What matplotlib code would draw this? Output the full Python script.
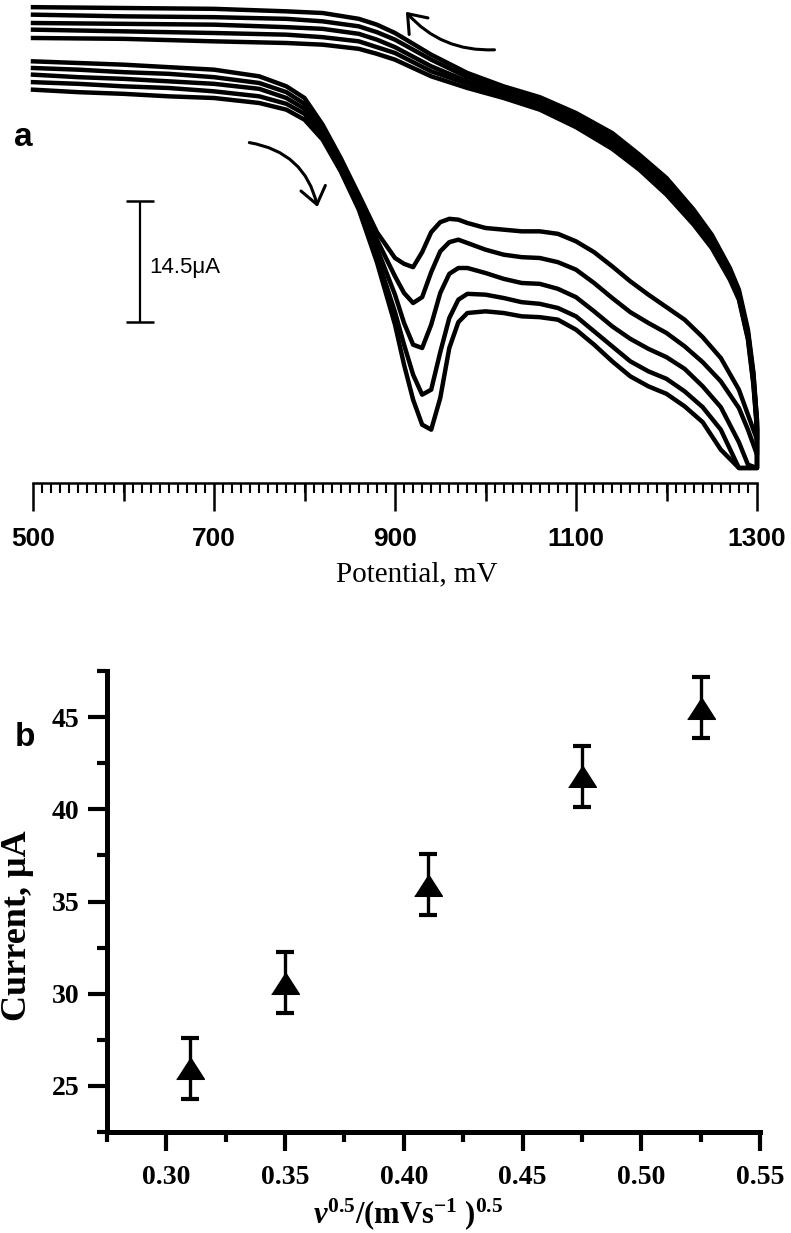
import matplotlib
matplotlib.use('Agg')
import matplotlib.pyplot as plt
from matplotlib.ticker import MultipleLocator

plt.rcParams['mathtext.fontset'] = 'custom'
plt.rcParams['mathtext.rm'] = 'Liberation Serif:bold'
plt.rcParams['mathtext.it'] = 'Liberation Serif:italic:bold'
plt.rcParams['mathtext.bf'] = 'Liberation Serif:bold'

# ---- panel a : cyclic voltammograms, five scan rates (current in uA) ----
e_fwd = [500, 550, 600, 650, 700, 750, 780, 800, 820, 840, 860, 880, 900, 910, 920, 930,
         940, 950, 960, 970, 980, 1000, 1020, 1040, 1060, 1080, 1100, 1120, 1140, 1160,
         1180, 1200, 1220, 1240, 1260, 1280, 1290, 1300]
i_fwd_1 = [50.6, 50.4, 50.2, 49.9, 49.6, 48.8, 47.6, 46.2, 43.0, 39.0, 34.6, 30.1, 27.0, 26.3, 25.9, 27.7,
           30.1, 31.3, 31.7, 31.6, 31.2, 30.6, 30.4, 30.2, 30.2, 29.9, 29.0, 27.7, 26.0, 24.2,
           22.6, 21.1, 19.6, 17.5, 15.0, 11.2, 8.2, 5.2]
i_fwd_2 = [49.8, 49.6, 49.3, 49.1, 48.7, 48.0, 46.9, 45.5, 42.5, 38.6, 34.1, 29.2, 24.8, 22.8, 21.6, 22.3,
           25.3, 27.8, 28.9, 29.2, 28.8, 28.0, 27.4, 27.1, 27.0, 26.5, 25.6, 24.0, 22.2, 20.5,
           19.2, 18.0, 16.4, 14.5, 12.2, 9.0, 6.4, 3.4]
i_fwd_3 = [49.0, 48.7, 48.5, 48.2, 47.9, 47.3, 46.2, 44.9, 42.1, 38.3, 33.7, 28.2, 22.6, 19.2, 16.6, 16.2,
           19.0, 22.8, 25.1, 25.8, 25.8, 25.2, 24.5, 24.0, 23.9, 23.3, 22.3, 20.6, 18.8, 17.3,
           16.1, 15.1, 13.7, 11.6, 9.1, 4.9, 2.2, 1.8]
i_fwd_4 = [48.1, 47.9, 47.6, 47.4, 47.0, 46.4, 45.5, 44.3, 41.6, 37.9, 33.2, 27.2, 20.5, 16.6, 13.0, 10.6,
           11.2, 15.7, 19.8, 22.0, 22.7, 22.6, 22.2, 21.7, 21.5, 21.0, 20.0, 18.2, 16.4, 14.6,
           13.4, 12.5, 11.0, 9.1, 6.4, 1.8, 1.8, 1.8]
i_fwd_5 = [47.2, 46.9, 46.7, 46.4, 46.2, 45.6, 44.8, 43.6, 41.2, 37.4, 32.8, 26.5, 19.0, 14.2, 10.0, 7.0,
           6.4, 10.2, 16.2, 19.3, 20.4, 20.6, 20.4, 20.0, 19.9, 19.6, 18.4, 16.6, 14.6, 12.8,
           11.6, 10.7, 9.2, 7.3, 4.0, 1.8, 1.8, 1.8]

e_rev = [1300, 1296, 1290, 1280, 1270, 1250, 1230, 1200, 1170, 1140, 1100, 1060, 1020, 980,
         940, 900, 880, 860, 820, 780, 700, 600, 500]
i_rev_1 = [6.4, 11.8, 17.2, 22.0, 24.4, 28.2, 31.0, 34.6, 37.6, 40.1, 42.7, 44.8, 46.2, 47.4,
           48.8, 50.8, 51.5, 52.1, 52.6, 52.8, 53.0, 53.3, 53.4]
i_rev_2 = [6.6, 12.1, 17.4, 22.2, 24.7, 28.6, 31.4, 35.0, 38.0, 40.6, 43.1, 45.1, 46.6, 47.9,
           49.4, 51.6, 52.3, 53.0, 53.5, 53.8, 54.0, 54.2, 54.4]
i_rev_3 = [7.0, 12.6, 17.8, 22.6, 25.1, 28.9, 31.8, 35.5, 38.4, 41.0, 43.6, 45.5, 46.9, 48.2,
           50.0, 52.3, 53.2, 53.9, 54.5, 54.7, 55.0, 55.1, 55.2]
i_rev_4 = [7.3, 13.0, 18.0, 22.9, 25.4, 29.4, 32.3, 36.1, 38.9, 41.5, 43.9, 46.0, 47.3, 48.7,
           50.8, 53.2, 54.1, 54.8, 55.4, 55.7, 55.9, 56.0, 56.2]
i_rev_5 = [7.6, 13.3, 18.4, 23.2, 25.8, 29.8, 32.8, 36.6, 39.4, 42.0, 44.4, 46.3, 47.6, 49.2,
           51.4, 54.0, 55.0, 55.7, 56.4, 56.6, 56.9, 57.0, 57.1]

scale_bar = 14.5  # uA

# ---- panel b : peak current vs square root of scan rate ----
sqrt_rate = [0.31, 0.35, 0.41, 0.475, 0.525]
peak_current = [25.95, 30.6, 35.9, 41.8, 45.5]
peak_err = [1.65, 1.65, 1.65, 1.65, 1.65]

W, H = 791, 1233
fig = plt.figure(figsize=(W / 100, H / 100), dpi=100)


def fx(px):
    return px / W


def fy(py):
    return 1 - py / H


sans = 'Liberation Sans'
serif = 'Liberation Serif'

# ================= panel a =================
ax1 = fig.add_axes([fx(33), fy(483), (757 - 33) / W, 483 / H])
ax1.set_xlim(500, 1300)
ax1.set_ylim(0, 57.96)

fwd = [i_fwd_1, i_fwd_2, i_fwd_3, i_fwd_4, i_fwd_5]
rev = [i_rev_1, i_rev_2, i_rev_3, i_rev_4, i_rev_5]
for f, r in zip(fwd, rev):
    ax1.plot(e_fwd + e_rev, f + r, color='black', lw=3.2,
             solid_joinstyle='round', clip_on=False)

# scale bar
ax1.errorbar(618, 19.3 + scale_bar / 2, yerr=scale_bar / 2, fmt='none',
             ecolor='black', elinewidth=1.6, capsize=10, capthick=1.8)
ax1.text(629, 25.8, '14.5\u03bcA', fontsize=16, family=sans, va='center', ha='left')

# scan direction arrows
ax1.annotate('', xy=(910, 56.8), xytext=(1013, 52.0),
             arrowprops=dict(arrowstyle='->,head_length=0.6,head_width=0.45',
                             connectionstyle='arc3,rad=-0.25', lw=2.2,
                             color='black', mutation_scale=20))
ax1.annotate('', xy=(815, 32.8), xytext=(736, 40.9),
             arrowprops=dict(arrowstyle='->,head_length=0.6,head_width=0.45',
                             connectionstyle='arc3,rad=-0.35', lw=2.2,
                             color='black', mutation_scale=20))

for s in ['left', 'right', 'top']:
    ax1.spines[s].set_visible(False)
ax1.spines['bottom'].set_linewidth(1.8)
ax1.set_yticks([])
ax1.set_xticks([500, 700, 900, 1100, 1300])
ax1.set_xticklabels(['500', '700', '900', '1100', '1300'], fontsize=19,
                    fontweight='bold', family=sans)
ax1.xaxis.set_minor_locator(MultipleLocator(10))
ax1.tick_params(axis='x', which='major', direction='out', length=20, width=1.8, pad=12)
ax1.tick_params(axis='x', which='minor', direction='out', length=7, width=1.5)

# medium ticks at the unlabelled hundreds
ax1b = ax1.twiny()
ax1b.set_xlim(500, 1300)
ax1b.xaxis.set_ticks_position('bottom')
ax1b.set_xticks([600, 800, 1000, 1200])
ax1b.tick_params(axis='x', direction='out', length=13, width=1.8,
                 labelbottom=False, labeltop=False)
for s in ax1b.spines.values():
    s.set_visible(False)
ax1b.patch.set_visible(False)

fig.text(fx(417), fy(574), 'Potential, mV', fontsize=21, family=serif,
         ha='center', va='center')
fig.text(fx(23), fy(138), 'a', fontsize=24, family=sans, fontweight='bold',
         ha='center', va='center')

# ================= panel b =================
ax2 = fig.add_axes([fx(107), fy(1132), (760 - 107) / W, (1132 - 671) / H])
ax2.errorbar(sqrt_rate, peak_current, yerr=peak_err, fmt='none', ecolor='black',
             elinewidth=2.4, capsize=6.5, capthick=3, zorder=2)
tri = [(-1, -0.78), (1, -0.78), (0, 0.78)]
ax2.plot(sqrt_rate, peak_current, linestyle='none', marker=tri, markersize=20,
         color='black', zorder=3)

ax2.set_xlim(0.275, 0.55)
ax2.set_ylim(22.5, 47.5)
ax2.xaxis.set_major_locator(MultipleLocator(0.05))
ax2.xaxis.set_minor_locator(MultipleLocator(0.025))
ax2.yaxis.set_major_locator(MultipleLocator(5))
ax2.yaxis.set_minor_locator(MultipleLocator(2.5))
ax2.xaxis.set_major_formatter(plt.FormatStrFormatter('%.2f'))
ax2.yaxis.set_major_formatter(plt.FormatStrFormatter('%d'))
for s in ['right', 'top']:
    ax2.spines[s].set_visible(False)
for s in ['left', 'bottom']:
    ax2.spines[s].set_linewidth(3.6)
ax2.tick_params(which='major', direction='out', length=14, width=3, labelsize=20)
ax2.tick_params(which='minor', direction='out', length=7, width=3)
ax2.tick_params(axis='x', which='major', pad=10)
ax2.tick_params(axis='y', which='major', pad=6)
for lbl in ax2.get_xticklabels() + ax2.get_yticklabels():
    lbl.set_family(serif)
    lbl.set_fontweight('bold')

fig.text(fx(18), fy(926), 'Current, \u03bcA', fontsize=26, family=serif,
         fontweight='bold', rotation=90, ha='center', va='center')
fig.text(fx(408), fy(1214), r'$v^{0.5}/(\mathrm{mVs}^{-1}\ )^{0.5}$', fontsize=22,
         ha='center', va='center')
fig.text(fx(25), fy(737), 'b', fontsize=24, family=sans, fontweight='bold',
         ha='center', va='center')

fig.savefig('out.png', dpi=100)
